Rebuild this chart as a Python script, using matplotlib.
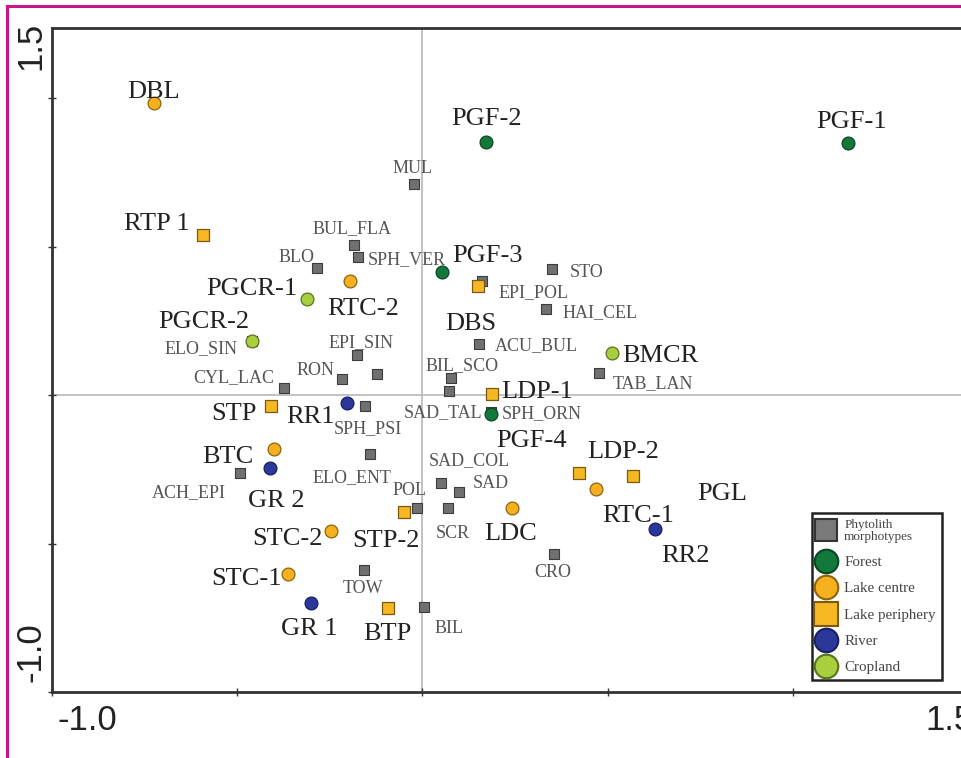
#! /usr/bin/python3

# CA biplot of phytolith morphotypes and surface samples
import matplotlib.pyplot as plt
from matplotlib.lines import Line2D

# sample scores by group: (name, axis1, axis2)
forest = [('PGF-1', 1.149, 0.848), ('PGF-2', 0.173, 0.852),
        ('PGF-3', 0.054, 0.414), ('PGF-4', 0.186, -0.064)]
lake_centre = [('DBL', -0.724, 0.983), ('RTC-2', -0.195, 0.384),
        ('BTC', -0.400, -0.182), ('STC-2', -0.246, -0.458),
        ('STC-1', -0.362, -0.603), ('LDC', 0.241, -0.380),
        ('RTC-1', 0.470, -0.316)]
lake_periphery = [('RTP 1', -0.592, 0.539), ('DBS', 0.151, 0.367),
        ('LDP-1', 0.189, 0.003), ('STP', -0.408, -0.037),
        ('STP-2', -0.049, -0.394), ('BTP', -0.092, -0.717),
        ('LDP-2', 0.424, -0.263), ('PGL', 0.568, -0.273)]
river = [('RR1', -0.203, -0.027), ('GR 2', -0.411, -0.246),
        ('GR 1', -0.300, -0.700), ('RR2', 0.627, -0.451)]
cropland = [('PGCR-1', -0.311, 0.323), ('PGCR-2', -0.459, 0.182),
        ('BMCR', 0.511, 0.141)]

# morphotype scores
morphotypes = [('MUL', -0.024, 0.710), ('BUL_FLA', -0.184, 0.505),
        ('SPH_VER', -0.173, 0.465), ('BLO', -0.284, 0.428),
        ('STO', 0.349, 0.424), ('EPI_POL', 0.162, 0.384),
        ('HAI_CEL', 0.335, 0.290), ('ACU_BUL', 0.154, 0.172),
        ('ELO_SIN', -0.459, 0.182), ('EPI_SIN', -0.176, 0.135),
        ('', -0.122, 0.071), ('RON', -0.216, 0.054),
        ('CYL_LAC', -0.373, 0.024), ('BIL_SCO', 0.078, 0.057),
        ('SAD_TAL', 0.073, 0.013), ('TAB_LAN', 0.476, 0.074),
        ('SPH_ORN', 0.186, -0.057), ('SPH_PSI', -0.154, -0.037),
        ('ELO_ENT', -0.141, -0.199), ('ACH_EPI', -0.492, -0.263),
        ('SAD_COL', 0.051, -0.296), ('SAD', 0.100, -0.327),
        ('POL', -0.014, -0.380), ('SCR', 0.068, -0.380),
        ('TOW', -0.157, -0.589), ('BIL', 0.003, -0.714),
        ('CRO', 0.354, -0.535)]

# where each label sits relative to its point (pixels, x right / y up)
offsets = {
    'PGF-1': (4, 15), 'PGF-2': (0, 17), 'PGF-3': (45, 10), 'PGF-4': (40, -33),
    'DBL': (-1, 5), 'RTC-2': (13, -34), 'BTC': (-46, -14), 'STC-2': (-44, -14),
    'STC-1': (-42, -11), 'LDC': (-1, -32), 'RTC-1': (42, -33),
    'RTP 1': (-46, 5), 'DBS': (-8, -44), 'LDP-1': (45, -4), 'STP': (-37, -14),
    'STP-2': (-18, -35), 'BTP': (-1, -32), 'LDP-2': (44, 15), 'PGL': (89, -24),
    'RR1': (-37, -20), 'GR 2': (6, -39), 'GR 1': (-2, -32), 'RR2': (31, -33),
    'PGCR-1': (-55, 4), 'PGCR-2': (-49, 13), 'BMCR': (49, -9),
    'MUL': (-1, 11), 'BUL_FLA': (-2, 12), 'SPH_VER': (48, -7), 'BLO': (-21, 6),
    'STO': (35, -8), 'EPI_POL': (51, -16), 'HAI_CEL': (54, -8),
    'ACU_BUL': (57, -6), 'ELO_SIN': (-51, -12), 'EPI_SIN': (4, 8),
    'RON': (-27, 4), 'CYL_LAC': (-50, 6), 'BIL_SCO': (11, 8),
    'SAD_TAL': (-6, -26), 'TAB_LAN': (54, -15), 'SPH_ORN': (50, -6),
    'SPH_PSI': (3, -27), 'ELO_ENT': (-18, -28), 'ACH_EPI': (-51, -24),
    'SAD_COL': (28, 18), 'SAD': (31, 4), 'POL': (-8, 13), 'SCR': (5, -30),
    'TOW': (-1, -23), 'BIL': (26, -26), 'CRO': (-1, -23)}

groups = [(forest, 'o', '#13793b', '#0b4623', 'Forest'),
        (lake_centre, 'o', '#f6b01e', '#8a6410', 'Lake centre'),
        (lake_periphery, 's', '#f6b822', '#7a5a10', 'Lake periphery'),
        (river, 'o', '#2b3899', '#18205e', 'River'),
        (cropland, 'o', '#a9cf3f', '#56721f', 'Cropland')]

fig = plt.figure(figsize=(9.61, 7.58), dpi=100)
# the axes run past the right edge of the picture (cropped figure)
ax = fig.add_axes([52/961, 1-692/758, 926/961, 664/758])
ax.set_xlim(-1.0, 1.5)
ax.set_ylim(-1.0, 1.236)

ax.axvline(0, color='#bdbdbd', lw=1.3, zorder=0)
ax.axhline(0, color='#bdbdbd', lw=1.3, zorder=0)

# morphotypes first so samples sit on top of them
mx = [m[1] for m in morphotypes]
my = [m[2] for m in morphotypes]
ax.scatter(mx, my, marker='s', s=60, c='#707070', edgecolors='#3c3c3c',
        linewidths=0.8, zorder=2)
for name, x, y in morphotypes:
    if name == '':
        continue
    ax.annotate(name, (x, y), xytext=offsets[name], textcoords='offset pixels',
            ha='center', va='baseline', fontsize=13, color='#555555',
            family='Liberation Serif')

for data, mk, fc, ec, lab in groups:
    xs = [d[1] for d in data]
    ys = [d[2] for d in data]
    ax.scatter(xs, ys, marker=mk, s=85, c=fc, edgecolors=ec, linewidths=0.9,
            zorder=3)
    for name, x, y in data:
        ax.annotate(name, (x, y), xytext=offsets[name],
                textcoords='offset pixels', ha='center', va='baseline',
                fontsize=19, color='#222222', family='Liberation Serif')

ax.set_xticks([-1.0, -0.5, 0, 0.5, 1.0, 1.5])
ax.set_yticks([-1.0, -0.5, 0, 0.5, 1.0])
ax.tick_params(direction='inout', length=6, width=1, color='#333333',
        labelbottom=False, labelleft=False)
for side in ['left', 'bottom', 'top']:
    ax.spines[side].set_linewidth(2)
    ax.spines[side].set_color('#333333')

# axis range labels at the ends, CanoDraw style
fig.text(87/961, 1-720/758, '-1.0', ha='center', va='center', fontsize=25,
        family='Liberation Sans', color='#222222')
fig.text(950/961, 1-720/758, '1.5', ha='center', va='center', fontsize=25,
        family='Liberation Sans', color='#222222')
fig.text(31/961, 1-46/758, '1.5', ha='center', va='center', fontsize=25,
        rotation=90, family='Liberation Sans', color='#222222')
fig.text(31/961, 1-652/758, '-1.0', ha='center', va='center', fontsize=25,
        rotation=90, family='Liberation Sans', color='#222222')

handles = [Line2D([], [], ls='', marker='s', ms=16, mfc='#7a7a7a',
        mec='#333333', mew=1.5)]
for data, mk, fc, ec, lab in groups:
    handles.append(Line2D([], [], ls='', marker=mk, ms=17, mfc=fc, mec=ec,
            mew=1.5))
labels = ['Phytolith\nmorphotypes', 'Forest', 'Lake centre', 'Lake periphery',
        'River', 'Cropland']
leg = fig.legend(handles, labels, loc='upper left',
        bbox_to_anchor=(812/961, 1-513/758), fancybox=False, framealpha=1,
        edgecolor='#222222', borderpad=0.4, handlelength=1.0,
        handletextpad=0.75, labelspacing=0.85, borderaxespad=0,
        prop={'family': 'Liberation Serif', 'size': 10.8})
leg.get_frame().set_linewidth(1.8)
for t in leg.get_texts():
    t.set_color('#444444')
leg.get_texts()[0].set_fontsize(9.5)
leg.get_texts()[0].set_linespacing(1.0)

# magenta frame of the original page
fig.add_artist(Line2D([7/961, 7/961], [0, 1-6/758], color='#c8168a', lw=2.2,
        transform=fig.transFigure))
fig.add_artist(Line2D([7/961, 1], [1-6/758, 1-6/758], color='#c8168a', lw=2.2,
        transform=fig.transFigure))

fig.savefig('out.png', dpi=100)
